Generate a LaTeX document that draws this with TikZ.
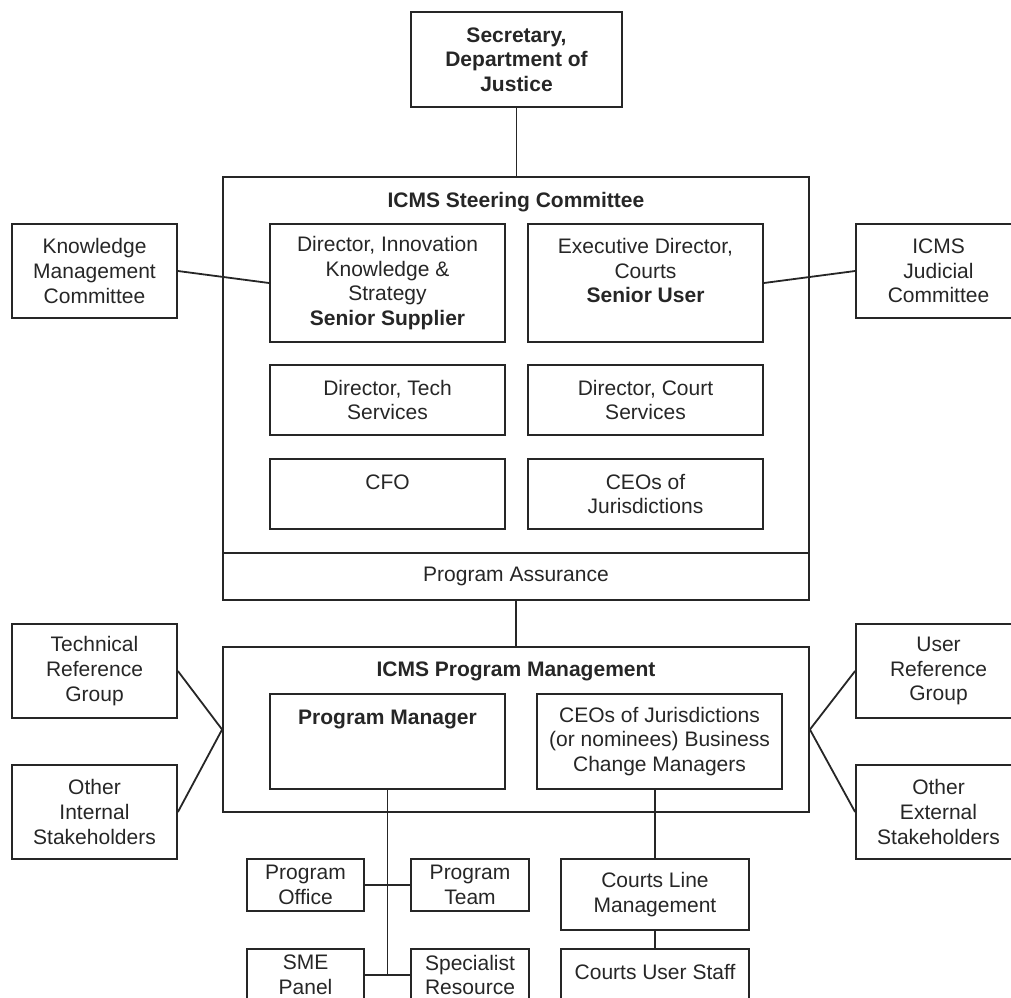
\documentclass[tikz,border=0pt]{standalone}
\usepackage{fontspec}
\setmainfont{Liberation Sans}
\usetikzlibrary{positioning}
\definecolor{Ink}{HTML}{262626}

\begin{document}
\begin{tikzpicture}[
  x=0.5pt, y=-0.5pt,
  font=\fontsize{10.5}{12.3}\selectfont, text=Ink,
  box/.style 2 args={draw=Ink, line width=0.9pt, minimum width=#1*0.5pt, minimum height=#2*0.5pt, inner sep=0pt, align=center},
  head/.style={font=\fontsize{10.5}{12.3}\selectfont\bfseries, align=center},
  link/.style={draw=Ink, line width=0.9pt}
]
\useasboundingbox (0,0) rectangle (1011,997);

\node[box={211}{95}, head] (sec) at (516.5,59.5) {Secretary,\\Department of\\Justice};

\node[box={586}{376}] (steer) at (516,365) {};
\node[head] (steertitle) at (516,202) {ICMS Steering Committee};
\node[box={235}{118}] (dir) at (387.5,283) {Director, Innovation\\Knowledge \&\\Strategy\\\textbf{Senior Supplier}};
\node[box={235}{118}] (exec) at (645.5,283) {Executive Director,\\Courts\\\textbf{Senior User}\\~};
\node[box={235}{70}] (tech) at (387.5,400) {Director, Tech\\Services};
\node[box={235}{70}] (court) at (645.5,400) {Director, Court\\Services};
\node[box={235}{70}] (cfo) at (387.5,494) {CFO\\~};
\node[box={235}{70}] (ceo) at (645.5,494) {CEOs of\\Jurisdictions};
\node[box={586}{47}] (assur) at (516,576.5) {Program Assurance};

\node[box={165}{94}] (kmc) at (94.5,271) {Knowledge\\Management\\Committee};
\node[box={165}{94}] (jud) at (938.5,271) {ICMS\\Judicial\\Committee};

\node[box={586}{165}] (pm) at (516,729.5) {};
\node[head] (pmtitle) at (516,671) {ICMS Program Management};
\node[box={235}{95}] (pmgr) at (387.5,741.5) {\textbf{Program Manager}\\~\\~};
\node[box={245}{95}] (bcm) at (659.5,741.5) {CEOs of Jurisdictions\\(or nominees) Business\\Change Managers};

\node[box={165}{94}] (trg) at (94.5,671) {Technical\\Reference\\Group};
\node[box={165}{94}] (ois) at (94.5,812) {Other\\Internal\\Stakeholders};
\node[box={165}{94}] (urg) at (938.5,671) {User\\Reference\\Group};
\node[box={165}{94}] (oes) at (938.5,812) {Other\\External\\Stakeholders};

\node[box={117}{52}] (poff) at (305.5,885) {Program\\Office};
\node[box={118}{52}] (pteam) at (470,885) {Program\\Team};
\node[box={117}{52}] (sme) at (305.5,975) {SME\\Panel};
\node[box={118}{52}] (spec) at (470,975) {Specialist\\Resource};
\node[box={188}{71}] (clm) at (655,894.5) {Courts Line\\Management};
\node[box={188}{71}] (cus) at (655,984.5) {Courts User Staff\\~};

\draw[link] (sec.south) -- (sec.south |- steer.north);
\draw[link] (kmc.east) -- (dir.west);
\draw[link] (exec.east) -- (jud.west);
\draw[link] (assur.south) -- (pm.north);
\draw[link] (trg.east) -- (pm.west);
\draw[link] (ois.east) -- (pm.west);
\draw[link] (pm.east) -- (urg.west);
\draw[link] (pm.east) -- (oes.west);
\draw[link] (pmgr.south) -- (pmgr.south |- sme.east);
\draw[link] (poff.east) -- (pteam.west);
\draw[link] (sme.east) -- (spec.west);
\draw[link] (clm.north |- bcm.south) -- (clm.north);
\draw[link] (clm.south) -- (cus.north);
\end{tikzpicture}
\end{document}
